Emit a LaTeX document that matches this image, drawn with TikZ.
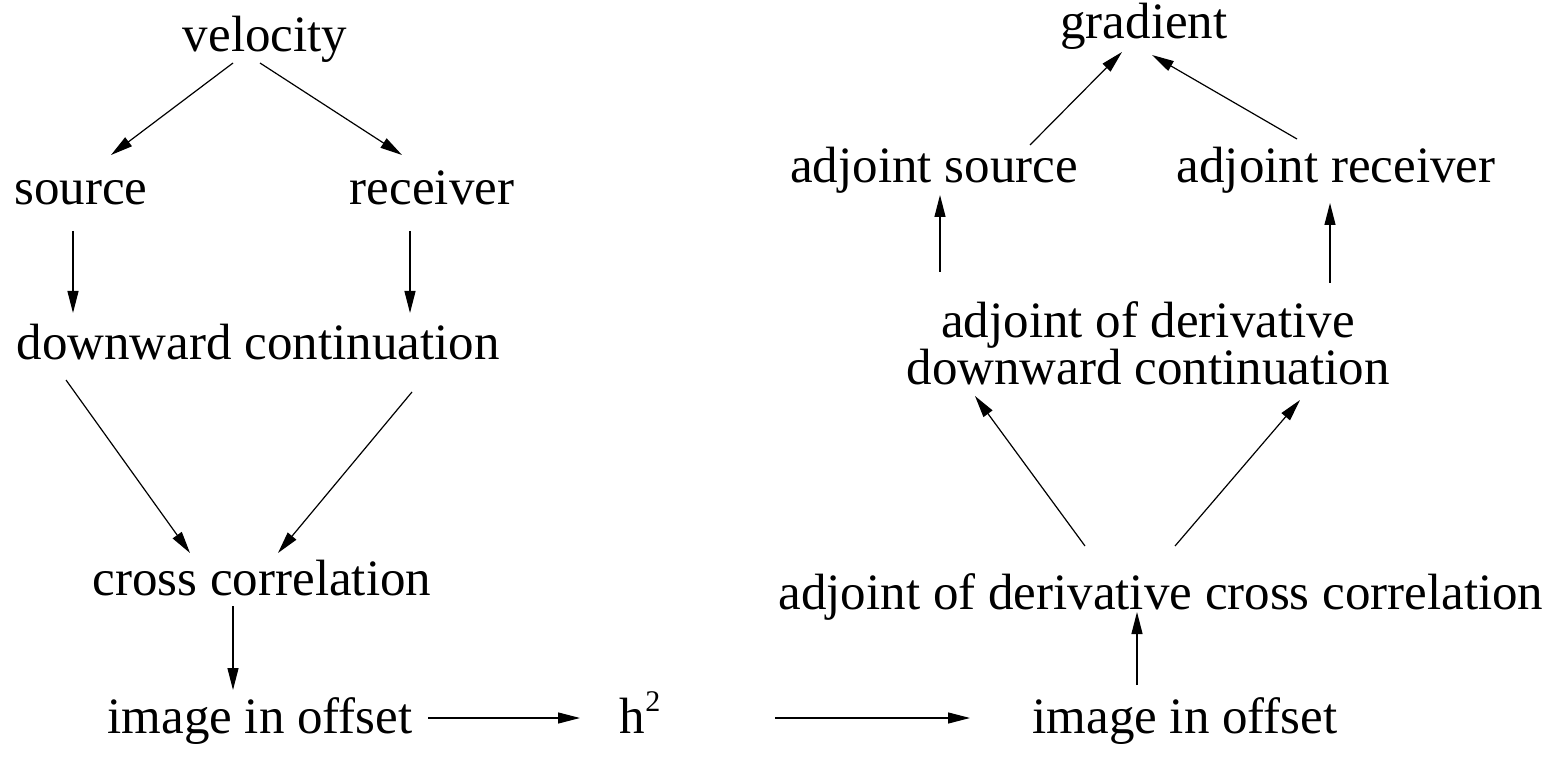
\documentclass[tikz,border=0pt]{standalone}
\usepackage{fontspec}
\setmainfont{Liberation Serif}
\usetikzlibrary{arrows.meta, calc}

\begin{document}
\begin{tikzpicture}[x=1pt, y=-1pt,
    every node/.style={inner sep=0pt, anchor=base, font=\fontsize{51}{42}\selectfont},
    arr/.style={-{Triangle[length=22pt,width=11pt]}, line width=1.2pt}]
    \useasboundingbox (0,0) rectangle (1559,770);

    % forward chain
    \node (velocity) at (265,52) {velocity};
    \node (source) at (81,205) {source};
    \node (receiver) at (432,205) {receiver};
    \node (downward) at (258,359) {downward continuation};
    \node (cross) at (262,595) {cross correlation};
    \node (imageL) at (260,733) {image in offset};
    \node (hsq) at (640,733) {h\raisebox{22pt}{\fontsize{30}{30}\selectfont 2}};

    % adjoint chain
    \node (imageR) at (1185,733) {image in offset};
    \node (adjcross) at (1161,609) {adjoint of derivative cross correlation};
    \node (adjderiv) at (1148,384) [align=center] {adjoint of derivative\\[-1pt]downward continuation};
    \node (adjsource) at (934,183) {adjoint source};
    \node (adjreceiver) at (1336,183) {adjoint receiver};
    \node (gradient) at (1144,39) {gradient};

    \draw[arr] ($(velocity.base)+(-32,11)$) -- ($(source.base)+(30,-50)$);
    \draw[arr] ($(velocity.base)+(-5,11)$) -- ($(receiver.base)+(-30,-50)$);
    \draw[arr] ($(source.base)+(-8,26)$) -- ($(downward.base)+(-185,-46)$);
    \draw[arr] ($(receiver.base)+(-22,26)$) -- ($(downward.base)+(152,-46)$);
    \draw[arr] ($(downward.base)+(-192,21)$) -- ($(cross.base)+(-72,-42)$);
    \draw[arr] ($(downward.base)+(154,33)$) -- ($(cross.base)+(16,-42)$);
    \draw[arr] ($(cross.base)+(-29,11)$) -- ($(imageL.base)+(-27,-43)$);
    \draw[arr] ($(imageL.base)+(168,-15)$) -- ($(hsq.base)+(-60,-15)$);
    \draw[arr] ($(hsq.base)+(135,-15)$) -- ($(imageR.base)+(-215,-15)$);

    \draw[arr] ($(imageR.base)+(-48,-48)$) -- ($(adjcross.base)+(-24,3)$);
    \draw[arr] ($(adjcross.base)+(-76,-63)$) -- ($(adjderiv.base)+(-173,12)$);
    \draw[arr] ($(adjcross.base)+(14,-63)$) -- ($(adjderiv.base)+(152,16)$);
    \draw[arr] ($(adjderiv.base)+(-208,-112)$) -- ($(adjsource.base)+(6,12)$);
    \draw[arr] ($(adjderiv.base)+(182,-101)$) -- ($(adjreceiver.base)+(-6,20)$);
    \draw[arr] ($(adjsource.base)+(96,-38)$) -- ($(gradient.base)+(-22,13)$);
    \draw[arr] ($(adjreceiver.base)+(-39,-44)$) -- ($(gradient.base)+(8,16)$);
\end{tikzpicture}
\end{document}
